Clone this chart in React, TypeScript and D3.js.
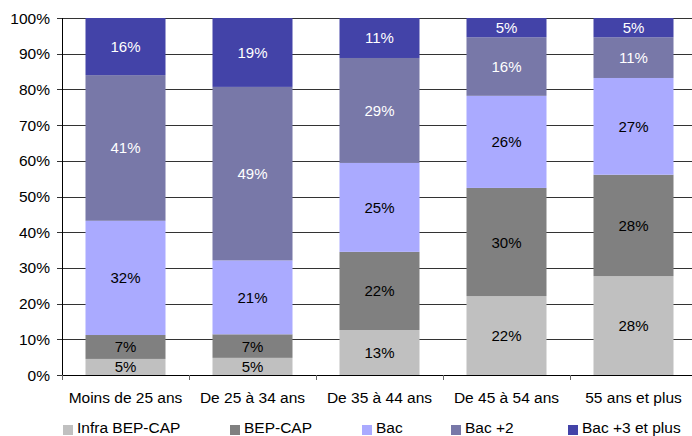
import React, { useRef, useEffect } from 'react';
import * as d3 from 'd3';

const categories = ['Moins de 25 ans', 'De 25 à 34 ans', 'De 35 à 44 ans', 'De 45 à 54 ans', '55 ans et plus'];
const seriesNames = ['Infra BEP-CAP', 'BEP-CAP', 'Bac', 'Bac +2', 'Bac +3 et plus'];
const infraBepCap = [4.5, 4.8, 12.6, 22.1, 27.7];
const bepCap = [6.7, 6.6, 21.9, 30.3, 28.4];
const bac = [32.0, 20.7, 24.9, 25.8, 27.1];
const bac2 = [40.8, 48.6, 29.4, 16.4, 11.4];
const bac3 = [16.0, 19.3, 11.2, 5.4, 5.4];
const yTicks = [0, 10, 20, 30, 40, 50, 60, 70, 80, 90, 100];

const colors = ['#c0c0c0', '#808080', '#aaaaff', '#7878a8', '#4343a8'];
const labelColors = ['#000', '#000', '#000', '#fff', '#fff'];
const legendX = [63, 230, 362, 451, 568];

const App = () => {
  const svgRef = useRef(null);

  useEffect(() => {
    const width = 692;
    const left = 62;
    const top = 18;
    const bottom = 375;
    const band = 127;
    const font = 'Liberation Sans, Arial, sans-serif';

    const svg = d3.select(svgRef.current);
    svg.selectAll('*').remove();

    const series = [infraBepCap, bepCap, bac, bac2, bac3];
    const rows = categories.map((c, i) => {
      const r: any = { cat: c };
      seriesNames.forEach((s, j) => { r[s] = series[j][i]; });
      return r;
    });
    const stacked = d3.stack().keys(seriesNames)(rows);

    const x = d3.scaleBand()
      .domain(categories)
      .range([left, left + band * categories.length])
      .paddingInner(0.37)
      .paddingOuter(0.185);
    const y = d3.scaleLinear().domain([0, 100]).range([bottom, top]);

    // gridlines
    svg.append('g')
      .selectAll('line')
      .data(yTicks)
      .enter()
      .append('line')
      .attr('x1', left - 5)
      .attr('x2', width)
      .attr('y1', d => Math.round(y(d)) + 0.5)
      .attr('y2', d => Math.round(y(d)) + 0.5)
      .attr('stroke', '#333')
      .attr('stroke-width', 1);

    // y tick labels
    svg.append('g')
      .selectAll('text')
      .data(yTicks)
      .enter()
      .append('text')
      .attr('x', left - 12)
      .attr('y', d => y(d) + 5.5)
      .attr('text-anchor', 'end')
      .style('font-family', font)
      .style('font-size', '15.5px')
      .text(d => `${d}%`);

    // bars
    const layers = svg.append('g')
      .selectAll('g')
      .data(stacked)
      .enter()
      .append('g')
      .attr('fill', (d, i) => colors[i]);

    layers.selectAll('rect')
      .data(d => d)
      .enter()
      .append('rect')
      .attr('x', d => x(d.data.cat))
      .attr('width', x.bandwidth())
      .attr('y', d => y(d[1]))
      .attr('height', d => y(d[0]) - y(d[1]));

    // value labels
    stacked.forEach((layer, i) => {
      svg.append('g')
        .selectAll('text')
        .data(layer)
        .enter()
        .append('text')
        .attr('x', d => x(d.data.cat) + x.bandwidth() / 2)
        .attr('y', d => (y(d[0]) + y(d[1])) / 2 + 5.5)
        .attr('text-anchor', 'middle')
        .attr('fill', labelColors[i])
        .style('font-family', font)
        .style('font-size', '15px')
        .text(d => `${Math.round(d[1] - d[0])}%`);
    });

    // axes lines
    svg.append('line')
      .attr('x1', left + 0.5).attr('x2', left + 0.5)
      .attr('y1', top).attr('y2', bottom + 5)
      .attr('stroke', '#000');
    svg.append('line')
      .attr('x1', left).attr('x2', width)
      .attr('y1', bottom + 0.5).attr('y2', bottom + 0.5)
      .attr('stroke', '#000');

    // category boundary ticks
    svg.append('g')
      .selectAll('line')
      .data(categories)
      .enter()
      .append('line')
      .attr('x1', (d, i) => left + band * i + 0.5)
      .attr('x2', (d, i) => left + band * i + 0.5)
      .attr('y1', bottom)
      .attr('y2', bottom + 5)
      .attr('stroke', '#666');

    // category labels
    svg.append('g')
      .selectAll('text')
      .data(categories)
      .enter()
      .append('text')
      .attr('x', d => x(d) + x.bandwidth() / 2)
      .attr('y', 403)
      .attr('text-anchor', 'middle')
      .style('font-family', font)
      .style('font-size', '15.5px')
      .text(d => d);

    // legend
    const legend = svg.append('g')
      .selectAll('g')
      .data(seriesNames)
      .enter()
      .append('g')
      .attr('transform', (d, i) => `translate(${legendX[i]},425)`);
    legend.append('rect')
      .attr('width', 10)
      .attr('height', 10)
      .attr('fill', (d, i) => colors[i]);
    legend.append('text')
      .attr('x', 14)
      .attr('y', 7.5)
      .style('font-family', font)
      .style('font-size', '15.5px')
      .text(d => d);
  }, []);

  return (
    <svg ref={svgRef} width={692} height={436}
      style={{ position: 'absolute', left: 0, top: 0, background: '#fff' }}></svg>
  );
};

export default App;
